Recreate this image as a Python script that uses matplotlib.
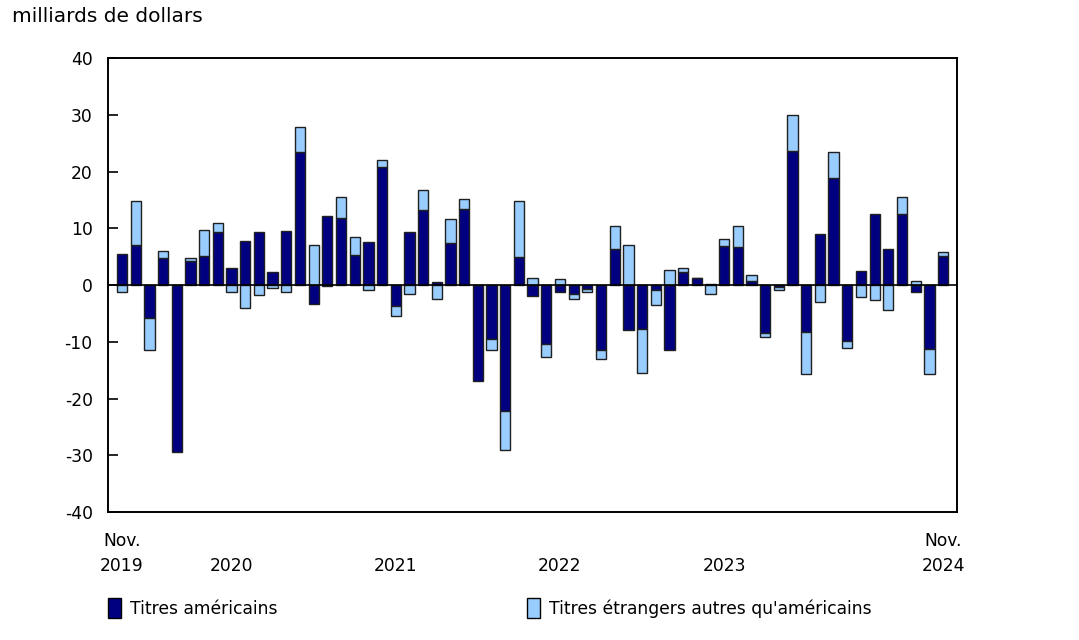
import numpy as np
import matplotlib
matplotlib.use("Agg")
import matplotlib.pyplot as plt
from matplotlib.patches import Patch
import matplotlib.transforms as mtransforms

# monthly values, Nov 2019 .. Nov 2024 (billions of dollars)
us_securities = [5.5, 7.1, -5.8, 4.7, -29.5, 4.2, 5.1, 9.4, 3.1, 7.7, 9.4, 2.4, 9.5,
                 23.5, -3.3, 12.2, 11.8, 5.3, 7.6, 20.8, -3.7, 9.4, 13.2, 0.5, 7.4,
                 13.4, -16.9, -9.5, -22.2, 4.9, -1.9, -10.4, -1.2, -1.5, -0.6, -11.4,
                 6.4, -7.9, -7.8, -0.8, -11.5, 2.4, 1.2, 0.2, 6.9, 6.7, 0.8, -8.5,
                 -0.3, 23.7, -8.2, 9.1, 18.9, -9.8, 2.5, 12.5, 6.4, 12.6, -1.3, -11.2, 5.1]
other_securities = [-1.2, 7.8, -5.7, 1.3, 0.0, 0.6, 4.7, 1.5, -1.2, -4.0, -1.8, -0.5, -1.2,
                    4.3, 7.0, -0.2, 3.8, 3.1, -0.8, 1.3, -1.7, -1.6, 3.5, -2.5, 4.2,
                    1.7, 0.0, -2.0, -6.9, 10.0, 1.2, -2.3, 1.0, -0.9, -0.6, -1.7,
                    4.0, 7.0, -7.7, -2.7, 2.7, 0.6, 0.1, -1.5, 1.3, 3.7, 1.0, -0.7,
                    -0.5, 6.3, -7.4, -2.9, 4.5, -1.2, -2.1, -2.6, -4.4, 2.9, 0.8, -4.5, 0.8]
x_labels = ["Nov.\n2019", "2020", "2021", "2022", "2023", "Nov.\n2024"]
x_label_pos = [0, 8, 20, 32, 44, 60]
y_ticks = [40, 30, 20, 10, 0, -10, -20, -30, -40]
series_names = ["Titres américains", "Titres étrangers autres qu'américains"]

DARK = "#000080"
LIGHT = "#99CCFF"
FS = 12.3

plt.rcParams['font.family'] = ['DejaVu Sans']

fig = plt.figure(figsize=(10.79, 6.4), dpi=100)
ax = fig.add_axes([0.1001, 0.2, 0.787, 0.709])

us = np.array(us_securities)
ot = np.array(other_securities)
x = np.arange(len(us))

# stack positives on positives and negatives on negatives
ot_bottom = np.where(np.sign(ot) == np.sign(us), us, 0.0)

ax.bar(x, us, width=0.75, color=DARK, edgecolor="#202020", linewidth=1.0, zorder=3)
ax.bar(x, ot, bottom=ot_bottom, width=0.75, color=LIGHT, edgecolor="#202020", linewidth=1.0, zorder=3)

ax.axhline(0, color="black", linewidth=1.2, zorder=4)

ax.set_xlim(-1.03, 61.03)
ax.set_ylim(-40, 40)
ax.set_yticks(y_ticks)
ax.set_yticklabels([str(v) for v in y_ticks], fontsize=FS)
ax.tick_params(axis="y", direction="in", length=7, width=1.2, pad=11)
ax.set_xticks([])
for s in ax.spines.values():
    s.set_linewidth(1.4)

trans = mtransforms.blended_transform_factory(ax.transData, fig.transFigure)
for lab, pos in zip(x_labels, x_label_pos):
    if "\n" in lab:
        top, bot = lab.split("\n")
        ax.text(pos, 1 - 541 / 640, top, transform=trans, ha="center", va="center", fontsize=FS)
        ax.text(pos, 1 - 566 / 640, bot, transform=trans, ha="center", va="center", fontsize=FS)
    else:
        ax.text(pos, 1 - 566 / 640, lab, transform=trans, ha="center", va="center", fontsize=FS)

fig.text(12 / 1079, 1 - 16 / 640, "milliards de dollars", ha="left", va="center", fontsize=14.5)

# legend
h1 = Patch(facecolor=DARK, edgecolor="black", linewidth=1.0)
h2 = Patch(facecolor=LIGHT, edgecolor="black", linewidth=1.0)
fig.legend([h1], [series_names[0]], loc="center left", bbox_to_anchor=(93 / 1079, 1 - 608 / 640),
           frameon=False, fontsize=FS, handlelength=0.75, handleheight=1.5, handletextpad=0.5)
fig.legend([h2], [series_names[1]], loc="center left", bbox_to_anchor=(512 / 1079, 1 - 608 / 640),
           frameon=False, fontsize=FS, handlelength=0.75, handleheight=1.5, handletextpad=0.5)

fig.savefig("out.png", dpi=100)
